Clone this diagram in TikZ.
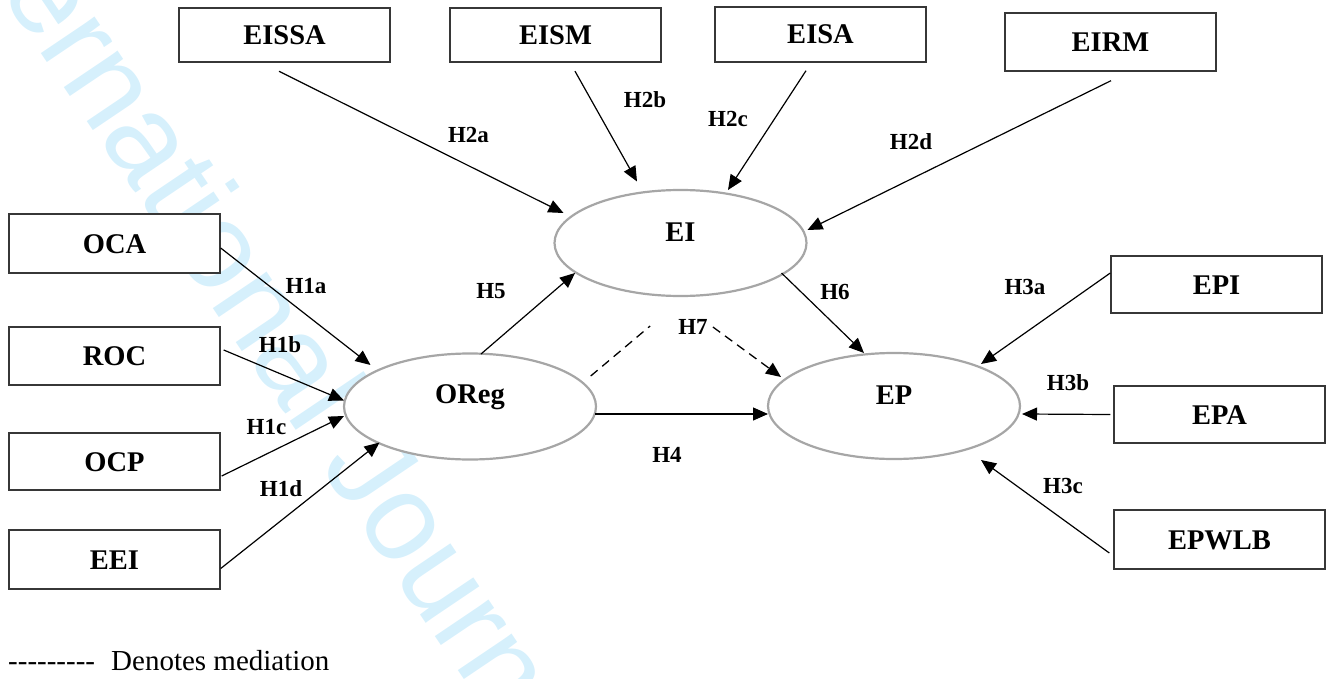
\documentclass[tikz,border=0pt]{standalone}
\usepackage{fontspec}
\setmainfont{Liberation Serif}
\newfontfamily\wmfont{Liberation Sans}
\usetikzlibrary{arrows.meta,calc,shapes.geometric}
\definecolor{wmblue}{RGB}{214,240,252}
\definecolor{ellgray}{RGB}{166,166,166}
\definecolor{boxgray}{RGB}{55,55,55}
\tikzset{
  box/.style={draw=boxgray,line width=1.4pt,fill=white,minimum width=211pt,minimum height=57pt,inner sep=0pt,
    font=\bfseries\fontsize{28.5}{30}\selectfont,text height=19pt,text depth=0pt},
  ell/.style={ellipse,draw=ellgray,line width=2.2pt,fill=white,minimum width=252pt,minimum height=106pt,inner sep=0pt},
  elltext/.style={inner sep=0pt,font=\bfseries\fontsize{28.5}{30}\selectfont,text height=19pt,text depth=0pt},
  hlbl/.style={inner sep=0pt,font=\bfseries\fontsize{23}{24}\selectfont,text height=15.5pt,text depth=0pt},
  tip/.style={-{Triangle[length=15pt,width=13pt]}},
  arr/.style={line width=1.2pt,tip},
  dashline/.style={line width=1.3pt,dash pattern=on 9pt off 6pt},
  legend/.style={inner sep=0pt,anchor=base west,font=\fontsize{29}{30}\selectfont}
}
\begin{document}
\begin{tikzpicture}[x=1pt,y=-1pt]
\useasboundingbox (0,0) rectangle (1327,679);
% watermark
\begin{scope}
\clip (0,0) rectangle (1327,679);
\node[inner sep=0pt,anchor=base west,rotate=-56,text=wmblue,font=\wmfont\fontsize{123}{123}\selectfont] (wm) at (-78,-124) {International Journal};
\end{scope}
% ellipses
\node[ell] (EI) at (680.5,243) {};
\node[ell] (OReg) at (470,406.5) {};
\node[ell] (EP) at (894,406) {};
\node[elltext] (EIt) at ($(EI)+(0,-11.5)$) {EI};
\node[elltext] (ORegt) at ($(OReg)+(0,-12.5)$) {OReg};
\node[elltext] (EPt) at ($(EP)+(0,-11.5)$) {EP};
% boxes
\node[box,minimum height=54pt] (EISSA) at (284.5,35) {EISSA};
\node[box,minimum height=54pt] (EISM) at (555.5,35) {EISM};
\node[box,minimum height=55pt] (EISA) at (820.5,34.5) {EISA};
\node[box,minimum height=58pt] (EIRM) at (1110.5,42) {EIRM};
\node[box,minimum height=59pt] (OCA) at (114.5,243.5) {OCA};
\node[box,minimum height=58pt] (ROC) at (114.5,356) {ROC};
\node[box,minimum height=57pt] (OCP) at (114.5,461.5) {OCP};
\node[box,minimum height=59pt] (EEI) at (114.5,559.5) {EEI};
\node[box,minimum height=57pt] (EPI) at (1216.5,284.5) {EPI};
\node[box,minimum height=57pt] (EPA) at (1219.5,414.5) {EPA};
\node[box,minimum height=59pt] (EPWLB) at (1219.5,539.5) {EPWLB};
% hypothesis labels
\node[hlbl] (H2a) at (468.5,135) {H2a};
\node[hlbl] (H2b) at (645,100) {H2b};
\node[hlbl] (H2c) at (728,119) {H2c};
\node[hlbl] (H2d) at (911,142) {H2d};
\node[hlbl] (H1a) at (306,286) {H1a};
\node[hlbl] (H1b) at (280,345) {H1b};
\node[hlbl] (H1c) at (266.5,427) {H1c};
\node[hlbl] (H1d) at (281,488.5) {H1d};
\node[hlbl] (H5) at (491,291) {H5};
\node[hlbl] (H6) at (835,292) {H6};
\node[hlbl] (H7) at (693,327) {H7};
\node[hlbl] (H4) at (667,455) {H4};
\node[hlbl] (H3a) at (1025,287) {H3a};
\node[hlbl] (H3b) at (1068,383) {H3b};
\node[hlbl] (H3c) at (1063,486) {H3c};
% connectors into EI
\draw[arr] ($(EISSA.south)+(-5.5,8.6)$) -- ($(EI)+(-117,-30)$);
\draw[arr] ($(EISM.south)+(19.5,8.5)$) -- ($(EI)+(-43.5,-61.5)$);
\draw[arr] ($(EISA.south)+(-14.5,8)$) -- ($(EI)+(47.5,-53)$);
\draw[arr] ($(EIRM.south)+(0.5,9)$) -- ($(EI)+(127,-13)$);
% connectors into OReg
\draw[arr] ($(OCA.east)+(0,4.5)$) -- ($(OReg)+(-99.5,-41.5)$);
\draw[arr] ($(ROC.east)+(3,-6)$) -- ($(OReg)+(-126,-6)$);
\draw[arr] ($(OCP.east)+(1,14.5)$) -- ($(OReg)+(-126,9.5)$);
\draw[arr] ($(EEI.east)+(0,9)$) -- ($(OReg)+(-90.5,36)$);
% structural paths
\draw[arr] ($(OReg)+(11,-52.5)$) -- ($(EI)+(-105.5,30)$);
\draw[arr] ($(EI)+(101,30)$) -- ($(EP)+(-30,-53)$);
\draw[arr] ($(OReg)+(125,7.5)$) -- ($(EP)+(-126,8)$);
% mediation
\draw[dashline] ($(OReg)+(120.7,-30.5)$) -- ($(H7.west)+(-28,-1)$);
\draw[dashline,tip] ($(H7.east)+(5,0)$) -- ($(EP)+(-113,-29)$);
% connectors into EP
\draw[arr] ($(EPI.west)+(0,-11.5)$) -- ($(EP)+(87,-42)$);
\draw[arr] ($(EPA.west)+(-3,0)$) -- ($(EP)+(128,8)$);
\draw[arr] ($(EPWLB.west)+(-4,13.5)$) -- ($(EP)+(87,54)$);
% legend
\node[legend] (legdash) at (8,670.7) {\mbox{-}\mbox{-}\mbox{-}\mbox{-}\mbox{-}\mbox{-}\mbox{-}\mbox{-}\mbox{-}};
\node[legend] (legtext) at (111,670.7) {Denotes mediation};
\end{tikzpicture}
\end{document}
